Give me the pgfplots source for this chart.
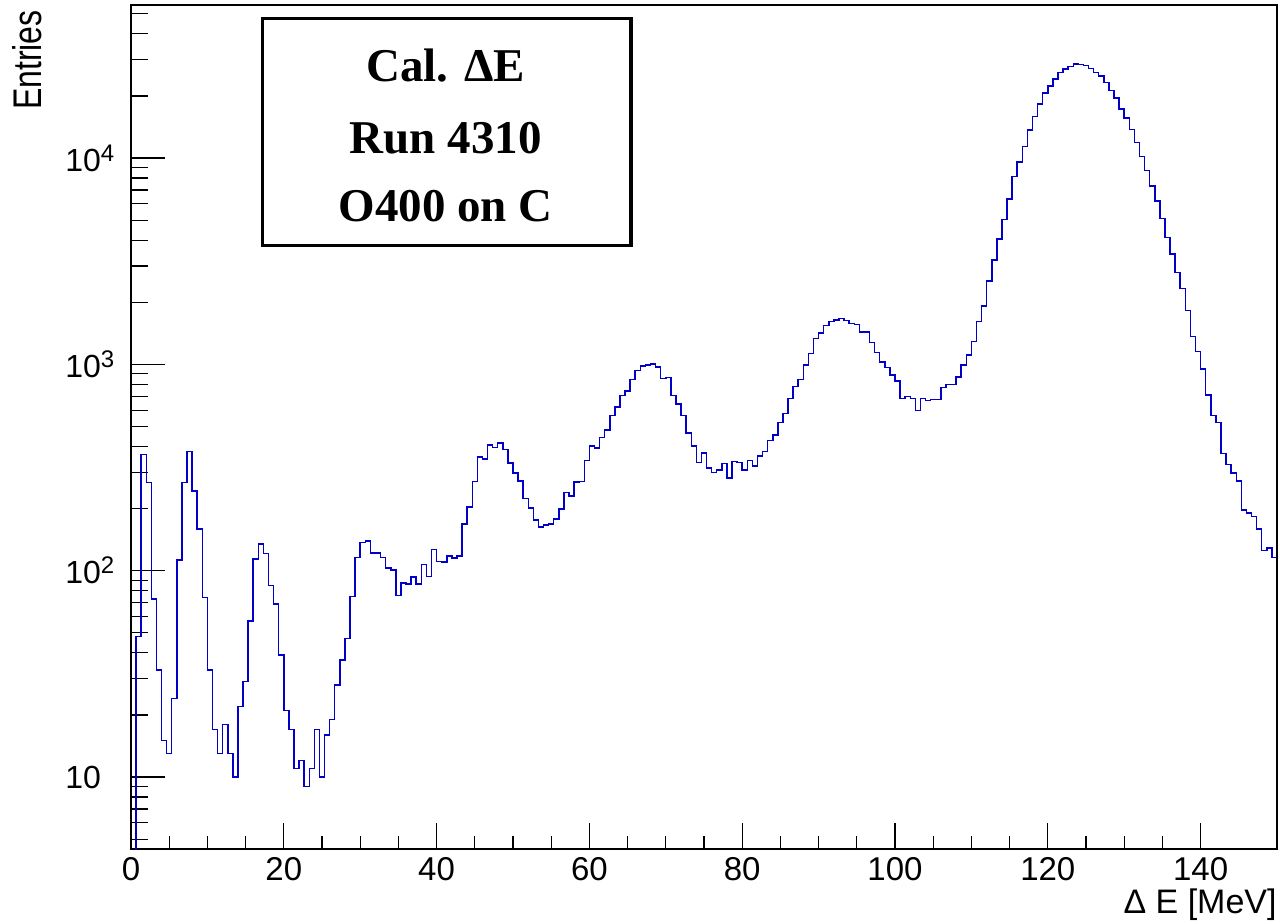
\documentclass[border=0pt]{standalone}
\usepackage{fontspec}
\setmainfont{Liberation Sans}
\newfontfamily\serifb{Liberation Serif}
\usepackage{pgfplots}
\pgfplotsset{compat=1.18}
\definecolor{histblue}{RGB}{0,0,200}
\newcommand\tp[1]{10\raisebox{5pt}{\fontsize{12}{13}\selectfont #1}}
\begin{document}
\begin{tikzpicture}
\begin{axis}[
  scale only axis, width=573pt, height=422pt,
  ymode=log, xmin=0, xmax=150, ymin=4.48, ymax=55200,
  clip mode=individual,
  axis line style={line width=1pt},
  tick align=inside, xtick pos=bottom, ytick pos=left,
  xtick={0,20,40,60,80,100,120,140}, minor x tick num=3,
  ytick={10,100,1000,10000},
  yticklabels={10,\tp{2},\tp{3},\tp{4}},
  minor ytick={5,6,7,8,9,20,30,40,50,60,70,80,90,200,300,400,500,600,700,800,900,2000,3000,4000,5000,6000,7000,8000,9000,20000,30000,40000,50000},
  every tick/.style={black, line width=0.6pt},
  xtick style={/pgfplots/major tick length=13pt,/pgfplots/minor tick length=6.5pt},
  ytick style={/pgfplots/major tick length=17pt,/pgfplots/minor tick length=8.5pt},
  /pgf/number format/assume math mode=true,
  scaled ticks=false,
  xticklabel style={anchor=base, inner sep=0pt, yshift=-15.5pt, font=\fontsize{16.5}{19}\selectfont},
  yticklabel style={anchor=west, inner sep=0pt, xshift=-33pt, font=\fontsize{16}{19}\selectfont},
]
\addplot[const plot, histblue, line width=0.75pt] coordinates {
(0,1) (0.667,48) (1.333,365) (2,267) (2.667,73) (3.333,33) (4,15) (4.667,13) (5.333,24) (6,113)
(6.667,267) (7.333,378) (8,243) (8.667,159) (9.333,74) (10,33) (10.667,17) (11.333,13) (12,18) (12.667,13)
(13.333,10) (14,22) (14.667,29) (15.333,57) (16,114) (16.667,135) (17.333,121) (18,85) (18.667,69) (19.333,39)
(20,21) (20.667,17) (21.333,11) (22,12) (22.667,9) (23.333,11) (24,17) (24.667,10) (25.333,16) (26,19)
(26.667,28) (27.333,37) (28,47) (28.667,75) (29.333,116) (30,137) (30.667,139) (31.333,122) (32,122) (32.667,116)
(33.333,103) (34,101) (34.667,76) (35.333,87) (36,86) (36.667,93) (37.333,86) (38,107) (38.667,94) (39.333,127)
(40,111) (40.667,110) (41.333,118) (42,115) (42.667,118) (43.333,168) (44,204) (44.667,270) (45.333,356) (46,348)
(46.667,406) (47.333,396) (48,415) (48.667,387) (49.333,332) (50,297) (50.667,272) (51.333,224) (52,201) (52.667,176)
(53.333,163) (54,167) (54.667,168) (55.333,178) (56,199) (56.667,239) (57.333,230) (58,269) (58.667,270) (59.333,343)
(60,402) (60.667,394) (61.333,443) (62,481) (62.667,564) (63.333,623) (64,708) (64.667,745) (65.333,847) (66,932)
(66.667,981) (67.333,993) (68,1007) (68.667,973) (69.333,853) (70,863) (70.667,705) (71.333,643) (72,564) (72.667,464)
(73.333,403) (74,334) (74.667,373) (75.333,315) (76,300) (76.667,308) (77.333,331) (78,282) (78.667,338) (79.333,335)
(80,308) (80.667,343) (81.333,322) (82,360) (82.667,378) (83.333,427) (84,455) (84.667,523) (85.333,579) (86,685)
(86.667,782) (87.333,845) (88,995) (88.667,1127) (89.333,1334) (90,1417) (90.667,1541) (91.333,1611) (92,1641) (92.667,1673)
(93.333,1628) (94,1581) (94.667,1564) (95.333,1432) (96,1432) (96.667,1275) (97.333,1140) (98,1030) (98.667,968) (99.333,889)
(100,831) (100.667,685) (101.333,697) (102,685) (102.667,597) (103.333,685) (104,667) (104.667,677) (105.333,677) (106,771)
(106.667,800) (107.333,800) (108,870) (108.667,993) (109.333,1109) (110,1288) (110.667,1611) (111.333,1918) (112,2540) (112.667,3207)
(113.333,4053) (114,5049) (114.667,6336) (115.333,8128) (116,9550) (116.667,11350) (117.333,13680) (118,15880) (118.667,18240) (119.333,20620)
(120,22350) (120.667,24160) (121.333,26040) (122,27030) (122.667,27730) (123.333,28570) (124,28370) (124.667,28050) (125.333,27230) (126,26040)
(126.667,25000) (127.333,23210) (128,21230) (128.667,19500) (129.333,17250) (130,15600) (130.667,13790) (131.333,11930) (132,10160) (132.667,8690)
(133.333,7340) (134,6190) (134.667,5100) (135.333,4115) (136,3420) (136.667,2787) (137.333,2330) (138,1821) (138.667,1362) (139.333,1152)
(140,950) (140.667,711) (141.333,564) (142,523) (142.667,369) (143.333,328) (144,297) (144.667,272) (145.333,197) (146,191)
(146.667,183) (147.333,159) (148,125) (148.667,129) (149.333,116) (150,116)
};
% text box
\draw[line width=1.7pt, fill=white] (rel axis cs:0.1149,0.7148) rectangle (rel axis cs:0.4363,0.9842);
\node[anchor=base, inner sep=0pt, font=\serifb\bfseries\fontsize{23.5}{26}\selectfont] at (rel axis cs:0.2745,0.9091) {Cal. ΔE};
\node[anchor=base, inner sep=0pt, font=\serifb\bfseries\fontsize{23.5}{26}\selectfont] at (rel axis cs:0.2745,0.8246) {Run 4310};
\node[anchor=base, inner sep=0pt, font=\serifb\bfseries\fontsize{23.5}{26}\selectfont] at (rel axis cs:0.2745,0.7432) {O400 on C};
% axis titles
\node[anchor=base east, inner sep=0pt, font=\fontsize{17}{20}\selectfont] at (rel axis cs:1,-0.0770) {Δ E [MeV]};
\node[rotate=90, anchor=base east, inner sep=0pt, font=\fontsize{20}{24}\selectfont] at (rel axis cs:-0.0779,0.9941) {\scalebox{0.8}[1]{Entries}};
\end{axis}
\pgfresetboundingbox
\path[use as bounding box] ([shift={(-65.5pt,-37pt)}]current axis.south west) rectangle ([shift={(1.5pt,2.5pt)}]current axis.north east);
\end{tikzpicture}
\end{document}
